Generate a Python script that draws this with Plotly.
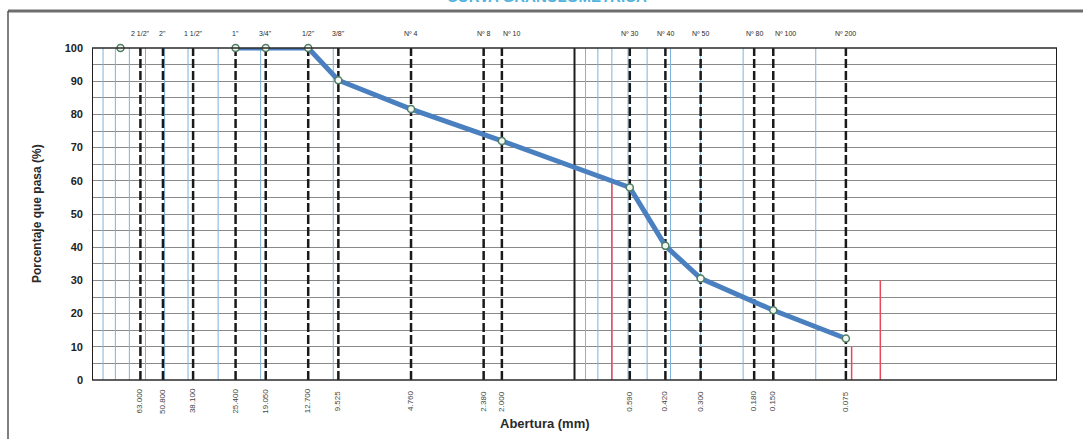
import numpy as np
import plotly.graph_objects as go

# ---------------- data ----------------
sieve_names = ['2 1/2"', '2"', '1 1/2"', '1"', '3/4"', '1/2"', '3/8"',
               'Nº 4', 'Nº 8', 'Nº 10', 'Nº 30', 'Nº 40', 'Nº 50',
               'Nº 80', 'Nº 100', 'Nº 200']
sieve_sizes = [63.000, 50.800, 38.100, 25.400, 19.050, 12.700, 9.525,
               4.760, 2.380, 2.000, 0.590, 0.420, 0.300,
               0.180, 0.150, 0.075]

curve_sizes = [76.2, 25.4, 19.05, 12.7, 9.525, 4.76, 2.0, 0.59, 0.42, 0.30, 0.15, 0.075]
curve_pass = [100, 100, 100, 100, 90.3, 81.6, 72.0, 58.0, 40.4, 30.6, 21.0, 12.5]

marker_sizes = [0.70, 0.071, 0.054]   # red reference lines (D60, D10, D30)
marker_heights = [60, 10, 30]

y_ticks = list(range(0, 101, 10))

# ---------------- figure ----------------
W, H = 1083, 439
L, R, T, B = 92, 1083 - 1057, 48, 439 - 380
pw, ph = W - L - R, H - T - B


def px_x(px):
    return (px - L) / pw


def px_y(py):
    return (H - B - py) / ph


fig = go.Figure()


def vlines(xs, y0=0, y1=100):
    xx, yy = [], []
    for v in xs:
        xx += [v, v, None]
        yy += [y0, y1, None]
    return xx, yy


# light blue minor log grid (two decades)
minor = [m * 10.0 ** e for e in (1, -1) for m in range(1, 10)]
xx, yy = vlines(minor)
fig.add_trace(go.Scatter(x=xx, y=yy, mode='lines', hoverinfo='skip',
                         line=dict(color='#7fb2dc', width=1)))

# black solid major lines
xx, yy = vlines([100, 1, 0.01])
fig.add_trace(go.Scatter(x=xx, y=yy, mode='lines', hoverinfo='skip',
                         line=dict(color='#1e1e1e', width=2)))

# sieve dashed lines
xx, yy = vlines(sieve_sizes)
fig.add_trace(go.Scatter(x=xx, y=yy, mode='lines', hoverinfo='skip',
                         line=dict(color='#1a1a1a', width=2.5, dash='9px,3px')))

# red reference lines
for d, h in zip(marker_sizes, marker_heights):
    fig.add_trace(go.Scatter(x=[d, d], y=[0, h], mode='lines', hoverinfo='skip',
                             line=dict(color='#e8485a', width=1.5)))

# curve line (first point isolated)
fig.add_trace(go.Scatter(x=curve_sizes[1:], y=curve_pass[1:], mode='lines',
                         line=dict(color='#4a80bf', width=5), hoverinfo='skip',
                         cliponaxis=False))
# curve markers
fig.add_trace(go.Scatter(x=curve_sizes, y=curve_pass, mode='markers',
                         cliponaxis=False,
                         marker=dict(symbol='circle', size=7, color='#f4f8f2',
                                     line=dict(color='#4f7d63', width=1.5))))

label_shift = {'Nº 10': 10, 'Nº 100': 12}

annotations = []
# top sieve names
for n, s in zip(sieve_names, sieve_sizes):
    annotations.append(dict(x=np.log10(s), xref='x', y=px_y(33), yref='paper',
                            text=n, showarrow=False, xanchor='center', yanchor='middle',
                            xshift=label_shift.get(n, 0),
                            font=dict(family='Liberation Sans', size=7, color='#2a2a2a')))
# bottom size labels (rotated)
for s in sieve_sizes:
    annotations.append(dict(x=np.log10(s), xref='x', y=px_y(401), yref='paper',
                            text=f'{s:.3f}', showarrow=False, textangle=-90,
                            xanchor='center', yanchor='middle',
                            font=dict(family='Liberation Sans', size=8, color='#444444')))
# axis titles
annotations.append(dict(x=px_x(37), y=px_y(214), xref='paper', yref='paper',
                        text='<b>Porcentaje que pasa (%)</b>', showarrow=False,
                        textangle=-90, xanchor='center', yanchor='middle',
                        font=dict(family='Liberation Sans', size=12, color='#2a2a2a')))
annotations.append(dict(x=px_x(545), y=px_y(423), xref='paper', yref='paper',
                        text='<b>Abertura (mm)</b>', showarrow=False,
                        xanchor='center', yanchor='middle',
                        font=dict(family='Liberation Sans', size=13, color='#2a2a2a')))
# title (cut off at top as in the scan)
annotations.append(dict(x=px_x(547), y=px_y(7), xref='paper', yref='paper',
                        text='<b>CURVA GRANULOMÉTRICA</b>', showarrow=False,
                        xanchor='center', yanchor='bottom',
                        font=dict(family='Liberation Sans', size=15, color='#4fb3dc')))

shapes = [
    # gray band under the title
    dict(type='line', xref='paper', yref='paper', x0=px_x(8), x1=px_x(1083),
         y0=px_y(11), y1=px_y(11), line=dict(color='#6e6e6e', width=3)),
    # left frame of the sheet
    dict(type='line', xref='paper', yref='paper', x0=px_x(8), x1=px_x(8),
         y0=px_y(11), y1=px_y(439), line=dict(color='#555555', width=1.5)),
    # plot frame top & bottom
    dict(type='line', xref='paper', yref='paper', x0=0, x1=1, y0=1, y1=1,
         line=dict(color='#2a2a2a', width=1.5)),
    dict(type='line', xref='paper', yref='paper', x0=0, x1=1, y0=0, y1=0,
         line=dict(color='#2a2a2a', width=1.5)),
]

fig.update_layout(
    width=W, height=H,
    margin=dict(l=L, r=R, t=T, b=B),
    paper_bgcolor='white', plot_bgcolor='white',
    showlegend=False,
    annotations=annotations,
    shapes=shapes,
    xaxis=dict(type='log', range=[2, -2], showgrid=False, zeroline=False,
               showticklabels=False, ticks='', showline=False),
    yaxis=dict(range=[0, 100], tickvals=y_ticks,
               ticktext=[f'<b>{v}</b>' for v in y_ticks],
               tickfont=dict(family='Liberation Sans', size=11, color='#222222'),
               ticklabelstandoff=8, ticks='',
               showgrid=True, gridcolor='#8a8a8a', gridwidth=1,
               minor=dict(dtick=5, showgrid=True, gridcolor='#8a8a8a', gridwidth=1),
               zeroline=False, showline=False),
)

fig.write_html('out.html', config={'displayModeBar': False},
               post_script="document.body.style.margin='0';document.body.style.overflow='hidden';")
